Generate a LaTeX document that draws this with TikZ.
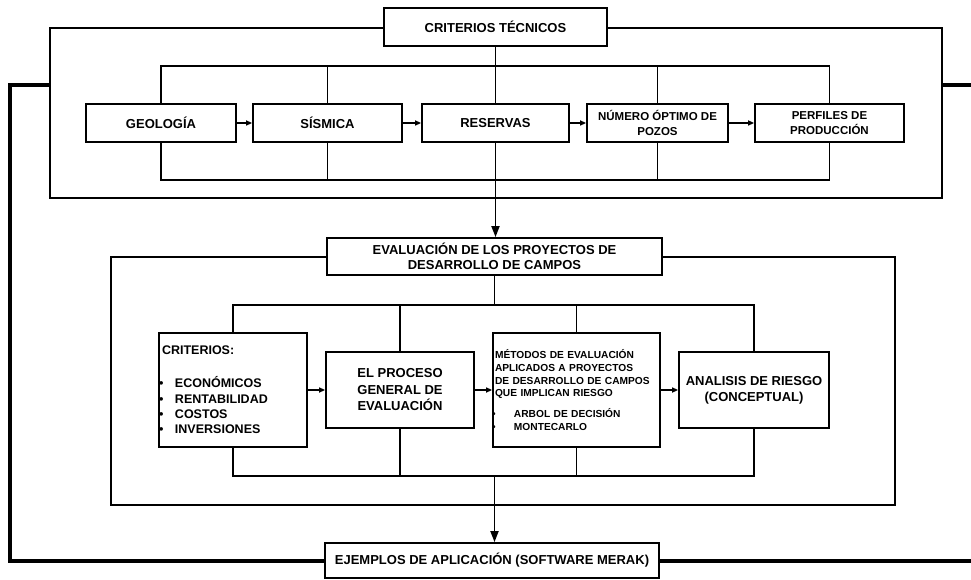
\documentclass[tikz,border=0pt]{standalone}
\usepackage{fontspec}
\setmainfont{Liberation Sans}
\usetikzlibrary{arrows.meta}
% bullet placed in a fixed-width slot, pulled slightly left
\newcommand\critbullet[1]{\makebox[#1][l]{\hspace*{-3pt}\textbullet}}
\begin{document}
\begin{tikzpicture}[x=1pt,y=-1pt,
  box/.style={draw, line width=1.8pt, fill=white, inner sep=2pt,
    font=\bfseries\fontsize{13}{15}\selectfont, align=center},
  frame/.style={draw, line width=2.4pt, inner sep=0pt},
  link/.style={line width=1.6pt},
  flow/.style={line width=1.6pt, -{Triangle[length=6pt,width=5pt]}},
  spine/.style={line width=1.8pt, -{Triangle[length=11pt,width=8pt]}},
  loop/.style={line width=4pt},
]
\useasboundingbox (0,0) rectangle (971,580);

% outer frames of the two stages
\node[frame, minimum width=892pt, minimum height=170pt] (tech) at (496,113) {};
\node[frame, minimum width=784pt, minimum height=248pt] (evalframe) at (503,381) {};

% levels of the connector frames
\coordinate (tft) at (0,66);
\coordinate (tfb) at (0,180);
\coordinate (bft) at (0,305);
\coordinate (bfb) at (0,476);
% feedback loop levels
\coordinate (lx) at (10,85);
\coordinate (rx) at (971,85);

% stage titles
\node[box, minimum width=223pt, minimum height=38pt] (title) at (495.5,27) {CRITERIOS TÉCNICOS};
\node[box, minimum width=335pt, minimum height=37pt] (eval) at (494.5,256.5)
  {EVALUACIÓN DE LOS PROYECTOS DE\\DESARROLLO DE CAMPOS};
\node[box, minimum width=334pt, minimum height=35pt] (ej) at (492,560.5)
  {EJEMPLOS DE APLICACIÓN (SOFTWARE MERAK)};

% technical criteria chain
\node[box, minimum width=150pt, minimum height=38pt] (geo) at (161,123) {GEOLOGÍA};
\node[box, minimum width=149pt, minimum height=38pt] (sis) at (327.5,123) {SÍSMICA};
\node[box, minimum width=147pt, minimum height=38pt] (res) at (495.5,123) {RESERVAS};
\node[box, minimum width=141pt, minimum height=38pt,
  font=\bfseries\fontsize{11.5}{15}\selectfont] (num) at (657.5,123) {NÚMERO ÓPTIMO DE\\POZOS};
\node[box, minimum width=149pt, minimum height=38pt,
  font=\bfseries\fontsize{11.5}{15}\selectfont] (perf) at (829.5,123) {PERFILES DE\\PRODUCCIÓN};

% evaluation chain
\node[box, minimum width=148pt, minimum height=114pt, text width=142pt, align=left,
  font=\bfseries\fontsize{12.5}{15.3}\selectfont] (crit) at (233,390)
  {CRITERIOS:\\[17.5pt]
   \critbullet{13pt}ECONÓMICOS\\
   \critbullet{13pt}RENTABILIDAD\\
   \critbullet{13pt}COSTOS\\
   \critbullet{13pt}INVERSIONES};
\node[box, minimum width=148pt, minimum height=76pt,
  font=\bfseries\fontsize{13}{16.5}\selectfont] (proc) at (400,390)
  {EL PROCESO\\GENERAL DE\\EVALUACIÓN};
\node[box, minimum width=167pt, minimum height=114pt, text width=163pt, align=left,
  font=\bfseries\fontsize{10.2}{12.8}\selectfont] (met) at (576.5,390)
  {MÉTODOS DE EVALUACIÓN\\
   APLICADOS A PROYECTOS\\
   DE DESARROLLO DE CAMPOS\\
   QUE IMPLICAN RIESGO\\[8pt]
   \critbullet{19pt}ARBOL DE DECISIÓN\\
   \critbullet{19pt}MONTECARLO};
\node[box, minimum width=150pt, minimum height=76pt,
  font=\bfseries\fontsize{13}{16}\selectfont] (ana) at (754,390)
  {ANALISIS DE RIESGO\\(CONCEPTUAL)};

% connector frame of the technical chain
\draw[link] (geo.north) |- (perf.north |- tft) -- (perf.north);
\draw[link] (geo.south) |- (perf.south |- tfb) -- (perf.south);
\draw[link] (sis.north) -- (sis.north |- tft);
\draw[link] (num.north) -- (num.north |- tft);
\draw[link] (sis.south) -- (sis.south |- tfb);
\draw[link] (num.south) -- (num.south |- tfb);
\draw[link] (title.south) -- (res.north);

\draw[flow] (geo.east) -- (sis.west);
\draw[flow] (sis.east) -- (res.west);
\draw[flow] (res.east) -- (num.west);
\draw[flow] (num.east) -- (perf.west);

% connector frame of the evaluation chain
\draw[link] (crit.north) |- (ana.north |- bft) -- (ana.north);
\draw[link] (crit.south) |- (ana.south |- bfb) -- (ana.south);
\draw[link] (proc.north) -- (proc.north |- bft);
\draw[link] (met.north) -- (met.north |- bft);
\draw[link] (proc.south) -- (proc.south |- bfb);
\draw[link] (met.south) -- (met.south |- bfb);
\draw[link] (eval.south) -- (eval.south |- bft);

\draw[flow] (crit.east) -- (proc.west);
\draw[flow] (proc.east) -- (met.west);
\draw[flow] (met.east) -- (ana.west);

% main flow between stages
\draw[spine] (res.south) -- (res.south |- eval.north);
\draw[spine] (eval.south |- bfb) -- (eval.south |- ej.north);

% feedback loop around the whole process
\draw[loop] (ej.west) -| (lx) -- (lx -| tech.west);
\draw[loop] (tech.east |- lx) -- (rx);
\draw[loop] (ej.east) -- (ej.east -| rx);
\end{tikzpicture}
\end{document}
